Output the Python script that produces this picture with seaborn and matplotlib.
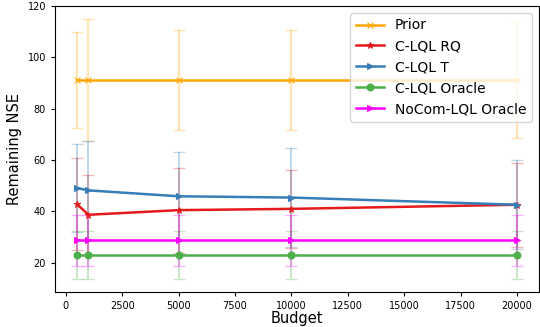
import numpy as np
import pandas as pd
import matplotlib
matplotlib.use("Agg")
import matplotlib.pyplot as plt
import seaborn as sns

budgets = [500, 1000, 5000, 10000, 20000]
methods = ["Prior", "C-LQL RQ", "C-LQL T", "C-LQL Oracle", "NoCom-LQL Oracle"]

prior_mean = [91.2, 91.2, 91.2, 91.2, 91.2]
prior_err = [18.6, 23.8, 19.4, 19.3, 22.7]
rq_mean = [42.8, 38.7, 40.5, 41.0, 42.6]
rq_err = [18.0, 15.6, 16.5, 15.3, 16.4]
t_mean = [49.1, 48.2, 45.9, 45.4, 42.6]
t_err = [17.3, 19.4, 17.1, 19.2, 17.3]
oracle_mean = [23.0, 23.0, 23.0, 23.0, 23.0]
oracle_err = [9.2, 9.2, 9.2, 9.2, 9.2]
nocom_mean = [28.8, 28.8, 28.8, 28.8, 28.8]
nocom_err = [10.0, 10.0, 10.0, 10.0, 10.0]

means = [prior_mean, rq_mean, t_mean, oracle_mean, nocom_mean]
errs = [prior_err, rq_err, t_err, oracle_err, nocom_err]

colors = {
    "Prior": "#ffa500",
    "C-LQL RQ": "#e41a1c",
    "C-LQL T": "#377eb8",
    "C-LQL Oracle": "#4daf4a",
    "NoCom-LQL Oracle": "#ff00ff",
}
markers = {
    "Prior": "x",
    "C-LQL RQ": "*",
    "C-LQL T": ">",
    "C-LQL Oracle": "o",
    "NoCom-LQL Oracle": ">",
}

rows = []
for name, m, e in zip(methods, means, errs):
    for b, v, s in zip(budgets, m, e):
        rows.append({"Budget": b, "NSE": v, "err": s, "method": name})
df = pd.DataFrame(rows)

fig, ax = plt.subplots(figsize=(5.4, 3.27), dpi=100)

for name in methods:
    sub = df[df["method"] == name]
    ax.errorbar(sub["Budget"], sub["NSE"], yerr=sub["err"], fmt="none",
                ecolor=colors[name], alpha=0.3, capsize=4, elinewidth=1.5)

for name in methods:
    sub = df[df["method"] == name]
    sns.lineplot(data=sub, x="Budget", y="NSE", color=colors[name],
                 marker=markers[name], markersize=5, linewidth=1.8,
                 markeredgecolor=colors[name], label=name, ax=ax)

ax.set_xlabel("Budget", fontsize=10.5, labelpad=0)
ax.set_ylabel("Remaining NSE", fontsize=10.5)
ax.tick_params(labelsize=7, length=3)
ax.set_xticks([0, 2500, 5000, 7500, 10000, 12500, 15000, 17500, 20000])
ax.legend(loc="upper right", fontsize=10, handlelength=2, borderpad=0.4,
          labelspacing=0.5)

fig.subplots_adjust(left=0.102, right=0.998, bottom=0.108, top=0.982)
fig.savefig("out.png", dpi=100)
